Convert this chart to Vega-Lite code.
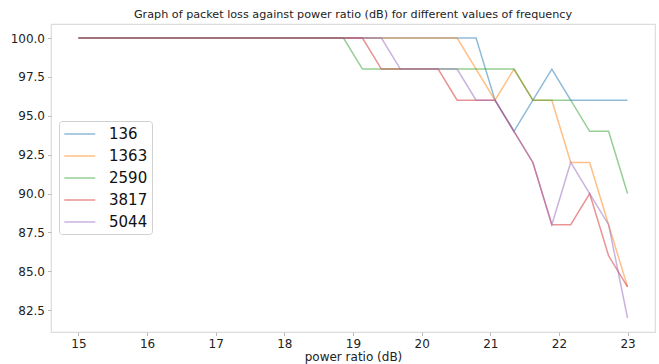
{
  "$schema": "https://vega.github.io/schema/vega-lite/v6.json",
  "width": 604,
  "height": 308,
  "autosize": {"type": "none"},
  "padding": {"left": 51, "top": 24, "right": 4, "bottom": 32},
  "background": "white",
  "config": {
    "font": "DejaVu Sans",
    "view": {"stroke": "#dcdcdc", "strokeWidth": 1.2},
    "axis": {
      "domain": false,
      "grid": false,
      "labelFont": "DejaVu Sans",
      "labelFontSize": 12,
      "labelColor": "#222222",
      "tickColor": "#bbbbbb",
      "tickSize": 3.5,
      "labelPadding": 3,
      "titleFont": "DejaVu Sans",
      "titleFontSize": 12,
      "titleFontWeight": "normal",
      "titleColor": "#222222"
    }
  },
  "title": {
    "text": "Graph of packet loss against power ratio (dB) for different values of frequency",
    "font": "DejaVu Sans",
    "fontSize": 11.2,
    "fontWeight": "normal",
    "color": "#222222",
    "anchor": "middle",
    "offset": 4
  },
  "data": {
    "values": [
      {"power": 15, "freq": "136", "loss": 100},
      {"power": 15.276, "freq": "136", "loss": 100},
      {"power": 15.552, "freq": "136", "loss": 100},
      {"power": 15.828, "freq": "136", "loss": 100},
      {"power": 16.103, "freq": "136", "loss": 100},
      {"power": 16.379, "freq": "136", "loss": 100},
      {"power": 16.655, "freq": "136", "loss": 100},
      {"power": 16.931, "freq": "136", "loss": 100},
      {"power": 17.207, "freq": "136", "loss": 100},
      {"power": 17.483, "freq": "136", "loss": 100},
      {"power": 17.759, "freq": "136", "loss": 100},
      {"power": 18.034, "freq": "136", "loss": 100},
      {"power": 18.31, "freq": "136", "loss": 100},
      {"power": 18.586, "freq": "136", "loss": 100},
      {"power": 18.862, "freq": "136", "loss": 100},
      {"power": 19.138, "freq": "136", "loss": 100},
      {"power": 19.414, "freq": "136", "loss": 100},
      {"power": 19.69, "freq": "136", "loss": 100},
      {"power": 19.966, "freq": "136", "loss": 100},
      {"power": 20.241, "freq": "136", "loss": 100},
      {"power": 20.517, "freq": "136", "loss": 100},
      {"power": 20.793, "freq": "136", "loss": 100},
      {"power": 21.069, "freq": "136", "loss": 96},
      {"power": 21.345, "freq": "136", "loss": 94},
      {"power": 21.621, "freq": "136", "loss": 96},
      {"power": 21.897, "freq": "136", "loss": 98},
      {"power": 22.172, "freq": "136", "loss": 96},
      {"power": 22.448, "freq": "136", "loss": 96},
      {"power": 22.724, "freq": "136", "loss": 96},
      {"power": 23, "freq": "136", "loss": 96},

      {"power": 15, "freq": "1363", "loss": 100},
      {"power": 15.276, "freq": "1363", "loss": 100},
      {"power": 15.552, "freq": "1363", "loss": 100},
      {"power": 15.828, "freq": "1363", "loss": 100},
      {"power": 16.103, "freq": "1363", "loss": 100},
      {"power": 16.379, "freq": "1363", "loss": 100},
      {"power": 16.655, "freq": "1363", "loss": 100},
      {"power": 16.931, "freq": "1363", "loss": 100},
      {"power": 17.207, "freq": "1363", "loss": 100},
      {"power": 17.483, "freq": "1363", "loss": 100},
      {"power": 17.759, "freq": "1363", "loss": 100},
      {"power": 18.034, "freq": "1363", "loss": 100},
      {"power": 18.31, "freq": "1363", "loss": 100},
      {"power": 18.586, "freq": "1363", "loss": 100},
      {"power": 18.862, "freq": "1363", "loss": 100},
      {"power": 19.138, "freq": "1363", "loss": 100},
      {"power": 19.414, "freq": "1363", "loss": 100},
      {"power": 19.69, "freq": "1363", "loss": 100},
      {"power": 19.966, "freq": "1363", "loss": 100},
      {"power": 20.241, "freq": "1363", "loss": 100},
      {"power": 20.517, "freq": "1363", "loss": 100},
      {"power": 20.793, "freq": "1363", "loss": 98},
      {"power": 21.069, "freq": "1363", "loss": 96},
      {"power": 21.345, "freq": "1363", "loss": 98},
      {"power": 21.621, "freq": "1363", "loss": 96},
      {"power": 21.897, "freq": "1363", "loss": 96},
      {"power": 22.172, "freq": "1363", "loss": 92},
      {"power": 22.448, "freq": "1363", "loss": 92},
      {"power": 22.724, "freq": "1363", "loss": 88},
      {"power": 23, "freq": "1363", "loss": 84},

      {"power": 15, "freq": "2590", "loss": 100},
      {"power": 15.276, "freq": "2590", "loss": 100},
      {"power": 15.552, "freq": "2590", "loss": 100},
      {"power": 15.828, "freq": "2590", "loss": 100},
      {"power": 16.103, "freq": "2590", "loss": 100},
      {"power": 16.379, "freq": "2590", "loss": 100},
      {"power": 16.655, "freq": "2590", "loss": 100},
      {"power": 16.931, "freq": "2590", "loss": 100},
      {"power": 17.207, "freq": "2590", "loss": 100},
      {"power": 17.483, "freq": "2590", "loss": 100},
      {"power": 17.759, "freq": "2590", "loss": 100},
      {"power": 18.034, "freq": "2590", "loss": 100},
      {"power": 18.31, "freq": "2590", "loss": 100},
      {"power": 18.586, "freq": "2590", "loss": 100},
      {"power": 18.862, "freq": "2590", "loss": 100},
      {"power": 19.138, "freq": "2590", "loss": 98},
      {"power": 19.414, "freq": "2590", "loss": 98},
      {"power": 19.69, "freq": "2590", "loss": 98},
      {"power": 19.966, "freq": "2590", "loss": 98},
      {"power": 20.241, "freq": "2590", "loss": 98},
      {"power": 20.517, "freq": "2590", "loss": 98},
      {"power": 20.793, "freq": "2590", "loss": 98},
      {"power": 21.069, "freq": "2590", "loss": 98},
      {"power": 21.345, "freq": "2590", "loss": 98},
      {"power": 21.621, "freq": "2590", "loss": 96},
      {"power": 21.897, "freq": "2590", "loss": 96},
      {"power": 22.172, "freq": "2590", "loss": 96},
      {"power": 22.448, "freq": "2590", "loss": 94},
      {"power": 22.724, "freq": "2590", "loss": 94},
      {"power": 23, "freq": "2590", "loss": 90},

      {"power": 15, "freq": "3817", "loss": 100},
      {"power": 15.276, "freq": "3817", "loss": 100},
      {"power": 15.552, "freq": "3817", "loss": 100},
      {"power": 15.828, "freq": "3817", "loss": 100},
      {"power": 16.103, "freq": "3817", "loss": 100},
      {"power": 16.379, "freq": "3817", "loss": 100},
      {"power": 16.655, "freq": "3817", "loss": 100},
      {"power": 16.931, "freq": "3817", "loss": 100},
      {"power": 17.207, "freq": "3817", "loss": 100},
      {"power": 17.483, "freq": "3817", "loss": 100},
      {"power": 17.759, "freq": "3817", "loss": 100},
      {"power": 18.034, "freq": "3817", "loss": 100},
      {"power": 18.31, "freq": "3817", "loss": 100},
      {"power": 18.586, "freq": "3817", "loss": 100},
      {"power": 18.862, "freq": "3817", "loss": 100},
      {"power": 19.138, "freq": "3817", "loss": 100},
      {"power": 19.414, "freq": "3817", "loss": 98},
      {"power": 19.69, "freq": "3817", "loss": 98},
      {"power": 19.966, "freq": "3817", "loss": 98},
      {"power": 20.241, "freq": "3817", "loss": 98},
      {"power": 20.517, "freq": "3817", "loss": 96},
      {"power": 20.793, "freq": "3817", "loss": 96},
      {"power": 21.069, "freq": "3817", "loss": 96},
      {"power": 21.345, "freq": "3817", "loss": 94},
      {"power": 21.621, "freq": "3817", "loss": 92},
      {"power": 21.897, "freq": "3817", "loss": 88},
      {"power": 22.172, "freq": "3817", "loss": 88},
      {"power": 22.448, "freq": "3817", "loss": 90},
      {"power": 22.724, "freq": "3817", "loss": 86},
      {"power": 23, "freq": "3817", "loss": 84},

      {"power": 15, "freq": "5044", "loss": 100},
      {"power": 15.276, "freq": "5044", "loss": 100},
      {"power": 15.552, "freq": "5044", "loss": 100},
      {"power": 15.828, "freq": "5044", "loss": 100},
      {"power": 16.103, "freq": "5044", "loss": 100},
      {"power": 16.379, "freq": "5044", "loss": 100},
      {"power": 16.655, "freq": "5044", "loss": 100},
      {"power": 16.931, "freq": "5044", "loss": 100},
      {"power": 17.207, "freq": "5044", "loss": 100},
      {"power": 17.483, "freq": "5044", "loss": 100},
      {"power": 17.759, "freq": "5044", "loss": 100},
      {"power": 18.034, "freq": "5044", "loss": 100},
      {"power": 18.31, "freq": "5044", "loss": 100},
      {"power": 18.586, "freq": "5044", "loss": 100},
      {"power": 18.862, "freq": "5044", "loss": 100},
      {"power": 19.138, "freq": "5044", "loss": 100},
      {"power": 19.414, "freq": "5044", "loss": 100},
      {"power": 19.69, "freq": "5044", "loss": 98},
      {"power": 19.966, "freq": "5044", "loss": 98},
      {"power": 20.241, "freq": "5044", "loss": 98},
      {"power": 20.517, "freq": "5044", "loss": 98},
      {"power": 20.793, "freq": "5044", "loss": 96},
      {"power": 21.069, "freq": "5044", "loss": 96},
      {"power": 21.345, "freq": "5044", "loss": 94},
      {"power": 21.621, "freq": "5044", "loss": 92},
      {"power": 21.897, "freq": "5044", "loss": 88},
      {"power": 22.172, "freq": "5044", "loss": 92},
      {"power": 22.448, "freq": "5044", "loss": 90},
      {"power": 22.724, "freq": "5044", "loss": 88},
      {"power": 23, "freq": "5044", "loss": 82}
    ]
  },
  "mark": {"type": "line", "strokeWidth": 1.5, "strokeOpacity": 0.5, "clip": true},
  "encoding": {
    "x": {
      "field": "power",
      "type": "quantitative",
      "title": "power ratio (dB)",
      "scale": {"domain": [14.6, 23.4], "nice": false, "zero": false},
      "axis": {"values": [15, 16, 17, 18, 19, 20, 21, 22, 23], "format": "d", "titlePadding": 2}
    },
    "y": {
      "field": "loss",
      "type": "quantitative",
      "title": null,
      "scale": {"domain": [81.1, 100.9], "nice": false, "zero": false},
      "axis": {"values": [82.5, 85, 87.5, 90, 92.5, 95, 97.5, 100], "format": ".1f"}
    },
    "color": {
      "field": "freq",
      "type": "nominal",
      "scale": {
        "domain": ["136", "1363", "2590", "3817", "5044"],
        "range": ["#1f77b4", "#ff7f0e", "#2ca02c", "#d62728", "#9467bd"]
      },
      "legend": {
        "title": null,
        "orient": "none",
        "legendX": 8,
        "legendY": 97,
        "symbolType": "M-0.96,0H2.91",
        "symbolSize": 256,
        "symbolStrokeWidth": 1.5,
        "symbolOpacity": 0.5,
        "labelFont": "DejaVu Sans",
        "labelFontSize": 15,
        "labelColor": "#111111",
        "labelOffset": 28,
        "rowPadding": 5,
        "padding": 4,
        "fillColor": "white",
        "strokeColor": "#d0d0d0",
        "cornerRadius": 3
      }
    }
  }
}
